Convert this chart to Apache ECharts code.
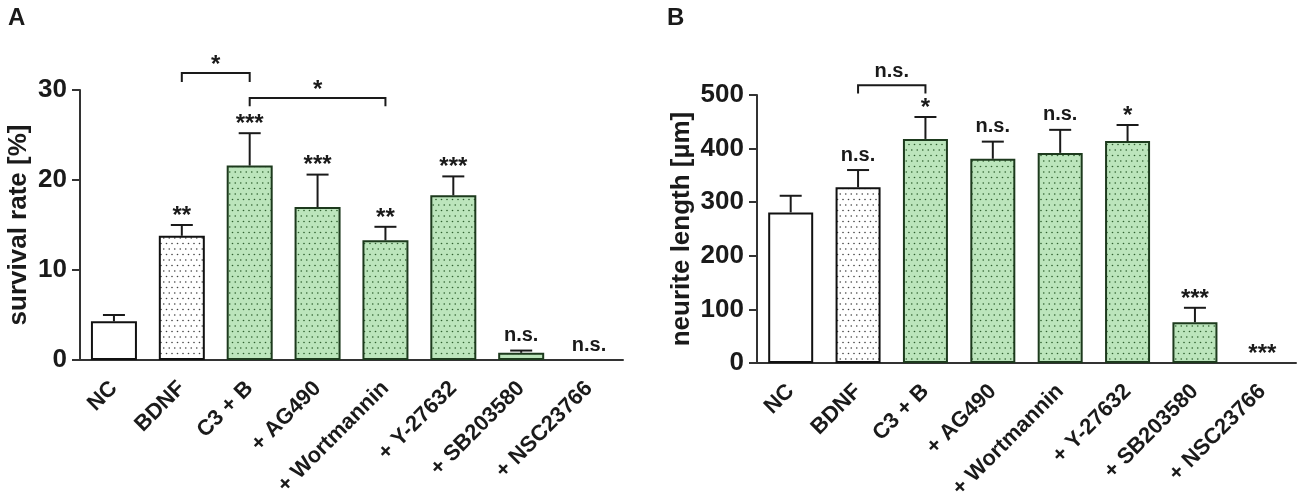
<!DOCTYPE html>
<html>

<head>
    <meta charset="utf-8">
    <title></title>
    <style>
        html, body { margin: 0; padding: 0; background: #fff; }
    </style>
</head>

<body>
    <div id="main" style="width: 1300px;height:499px;"></div>
    <script src="https://cdn.jsdelivr.net/npm/echarts@6/dist/echarts.min.js" charset="utf-8"></script>
    <script>
    // groups, shared by both panels
    var categories = ['NC', 'BDNF', 'C3 + B', '+ AG490', '+ Wortmannin', '+ Y-27632', '+ SB203580', '+ NSC23766'];
    // 0 = plain white, 1 = dotted white, 2 = dotted green
    var barKind = [0, 1, 2, 2, 2, 2, 2, 2];

    // panel A: survival rate [%]
    var survivalMean = [4.3, 13.8, 21.6, 17.0, 13.3, 18.3, 0.8, 0];
    var survivalErr = [0.7, 1.2, 3.6, 3.6, 1.5, 2.1, 0.25, 0];
    var survivalSig = ['', '**', '***', '***', '**', '***', 'n.s.', 'n.s.'];
    var survivalTicks = [0, 10, 20, 30];
    // [from, to, bar height, foot height, text]
    var survivalBrackets = [[1, 2, 31.9, 30.9, '*'], [2, 4, 29.1, 28.2, '*']];

    // panel B: neurite length [µm]
    var neuriteMean = [281, 328, 418, 381, 392, 414, 76, 0];
    var neuriteErr = [31, 32, 41, 32, 43, 30, 27, 0];
    var neuriteSig = ['', 'n.s.', '*', 'n.s.', 'n.s.', '*', '***', '***'];
    var neuriteTicks = [0, 100, 200, 300, 400, 500];
    var neuriteBrackets = [[1, 2, 518, 503, 'n.s.']];

    var FONT = 'Liberation Sans, Arial, Helvetica, sans-serif';
    var INK = '#1a1a1a';

    function dots(bg, dot) {
        var c = document.createElement('canvas');
        c.width = 11; c.height = 11;
        var g = c.getContext('2d');
        g.fillStyle = bg;
        g.fillRect(0, 0, 11, 11);
        g.fillStyle = dot;
        [[1.5, 1.5], [7, 1.5], [4.25, 7], [9.75, 7]].forEach(function(p) {
            g.beginPath();
            g.arc(p[0], p[1], 0.8, 0, Math.PI * 2);
            g.fill();
        });
        return { image: c, repeat: 'repeat' };
    }

    var styles = [
        { color: '#ffffff', borderColor: '#111', borderWidth: 2 },
        { color: dots('#ffffff', '#444'), borderColor: '#111', borderWidth: 2 },
        { color: dots('#bce5bc', '#2f5f2f'), borderColor: '#1d3a1d', borderWidth: 2 }
    ];

    function barData(vals) {
        return vals.map(function(v, i) {
            var st = styles[barKind[i]];
            if (v === 0) st = { color: 'transparent', borderWidth: 0 };
            return { value: v, itemStyle: st };
        });
    }

    function errData(mean, err) {
        var out = [];
        mean.forEach(function(m, i) {
            if (err[i] > 0) out.push([i, m, m + err[i]]);
        });
        return out;
    }

    function sigData(mean, err, sig) {
        var out = [];
        sig.forEach(function(s, i) {
            if (s) out.push([i, mean[i] + err[i], s]);
        });
        return out;
    }

    function textEl(x, y, s) {
        var star = s.charAt(0) === '*';
        var size = star ? 24 : 20;
        return {
            type: 'text',
            x: x,
            y: star ? y + 0.3 * size : y - 1,
            style: {
                text: s,
                fill: INK,
                font: 'bold ' + size + 'px ' + FONT,
                align: 'center',
                verticalAlign: 'bottom'
            }
        };
    }

    function renderErr(params, api) {
        var base = api.coord([api.value(0), api.value(1)]);
        var top = api.coord([api.value(0), api.value(2)]);
        var lineStyle = { stroke: INK, lineWidth: 2 };
        return {
            type: 'group',
            children: [
                { type: 'line', shape: { x1: base[0], y1: base[1], x2: top[0], y2: top[1] }, style: lineStyle },
                { type: 'line', shape: { x1: top[0] - 11, y1: top[1], x2: top[0] + 11, y2: top[1] }, style: lineStyle }
            ]
        };
    }

    function renderSig(params, api) {
        var p = api.coord([api.value(0), api.value(1)]);
        return textEl(p[0], p[1] - 4, api.value(2));
    }

    function renderBracket(params, api) {
        var a = api.coord([api.value(0), api.value(2)]);
        var b = api.coord([api.value(1), api.value(2)]);
        var fa = api.coord([api.value(0), api.value(3)]);
        return {
            type: 'group',
            children: [
                {
                    type: 'polyline',
                    shape: { points: [[a[0], fa[1]], a, b, [b[0], fa[1]]] },
                    style: { stroke: INK, lineWidth: 2, fill: null }
                },
                textEl((a[0] + b[0]) / 2, a[1] - 3, api.value(4))
            ]
        };
    }

    function xAxis(idx) {
        return {
            type: 'category',
            gridIndex: idx,
            data: categories,
            axisLine: { lineStyle: { color: '#333', width: 2 } },
            axisTick: { alignWithLabel: true, length: 8, lineStyle: { color: '#333', width: 2 } },
            axisLabel: {
                interval: 0,
                rotate: 45,
                margin: 25,
                color: INK,
                fontFamily: FONT,
                fontWeight: 'bold',
                fontSize: 22
            }
        };
    }

    function yAxis(idx, ticks, name, gap) {
        return {
            type: 'value',
            gridIndex: idx,
            min: ticks[0],
            max: ticks[ticks.length - 1],
            interval: ticks[1] - ticks[0],
            name: name,
            nameLocation: 'middle',
            nameGap: gap,
            nameTextStyle: { color: INK, fontFamily: FONT, fontWeight: 'bold', fontSize: 26 },
            splitLine: { show: false },
            axisLine: { show: true, lineStyle: { color: '#333', width: 2 } },
            axisTick: { show: true, length: 8, lineStyle: { color: '#333', width: 2 } },
            axisLabel: { margin: 13, color: INK, fontFamily: FONT, fontWeight: 'bold', fontSize: 26 }
        };
    }

    var myChart = echarts.init(document.getElementById('main'));
    var option = {
        animation: false,
        backgroundColor: '#fff',
        graphic: [
            { type: 'text', left: 8, top: 6, style: { text: 'A', font: 'bold 24px ' + FONT, fill: INK } },
            { type: 'text', left: 667, top: 6, style: { text: 'B', font: 'bold 24px ' + FONT, fill: INK } }
        ],
        grid: [
            { left: 80, right: 677, top: 90, bottom: 139, outerBoundsMode: 'none' },
            { left: 757, right: 4, top: 95, bottom: 136, outerBoundsMode: 'none' }
        ],
        xAxis: [xAxis(0), xAxis(1)],
        yAxis: [
            yAxis(0, survivalTicks, 'survival rate [%]', 48),
            yAxis(1, neuriteTicks, 'neurite length [µm]', 62)
        ],
        series: [
            { type: 'bar', xAxisIndex: 0, yAxisIndex: 0, barWidth: 46, data: barData(survivalMean) },
            { type: 'bar', xAxisIndex: 1, yAxisIndex: 1, barWidth: 45, data: barData(neuriteMean) },
            { type: 'custom', xAxisIndex: 0, yAxisIndex: 0, renderItem: renderErr, data: errData(survivalMean, survivalErr), z: 3 },
            { type: 'custom', xAxisIndex: 1, yAxisIndex: 1, renderItem: renderErr, data: errData(neuriteMean, neuriteErr), z: 3 },
            { type: 'custom', xAxisIndex: 0, yAxisIndex: 0, renderItem: renderSig, data: sigData(survivalMean, survivalErr, survivalSig), z: 4 },
            { type: 'custom', xAxisIndex: 1, yAxisIndex: 1, renderItem: renderSig, data: sigData(neuriteMean, neuriteErr, neuriteSig), z: 4 },
            { type: 'custom', xAxisIndex: 0, yAxisIndex: 0, renderItem: renderBracket, data: survivalBrackets, clip: false, z: 4 },
            { type: 'custom', xAxisIndex: 1, yAxisIndex: 1, renderItem: renderBracket, data: neuriteBrackets, clip: false, z: 4 }
        ]
    };
    myChart.setOption(option);
    </script>
</body>

</html>
